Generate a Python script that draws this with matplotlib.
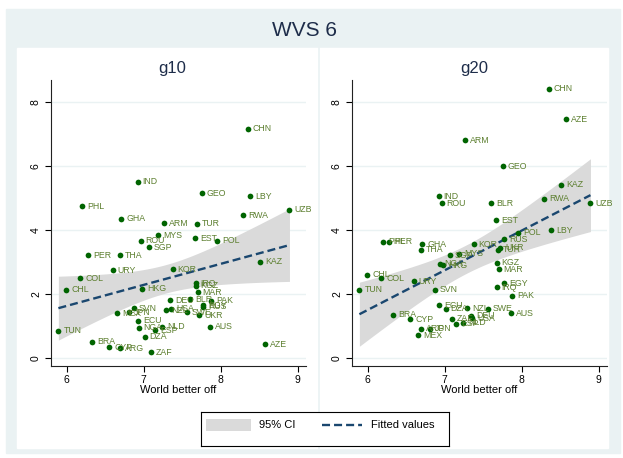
import numpy as np
import matplotlib
matplotlib.use('Agg')
import matplotlib.pyplot as plt
from matplotlib.patches import Rectangle

plt.rcParams['font.family'] = ['Liberation Sans', 'DejaVu Sans']

# data (WVS wave 6)
countries = ['CHN', 'IND', 'GEO', 'LBY', 'PHL', 'UZB', 'RWA', 'GHA', 'ARM', 'TUR',
             'MYS', 'EST', 'POL', 'ROU', 'SGP', 'PER', 'THA', 'KAZ', 'KOR', 'URY',
             'COL', 'IRQ', 'KGZ', 'CHL', 'HKG', 'MAR', 'DEU', 'BLR', 'PAK', 'EGY',
             'RUS', 'USA', 'NZL', 'SVN', 'SWE', 'UKR', 'MEX', 'JPN', 'ECU', 'NGA',
             'NLD', 'ESP', 'AUS', 'DZA', 'BRA', 'CYP', 'ARG', 'ZAF', 'TUN', 'AZE']
better_off = [8.35, 6.92, 7.755, 8.385, 6.20, 8.895, 8.29, 6.705, 7.26, 7.695,
              7.185, 7.665, 7.95, 6.96, 7.065, 6.28, 6.685, 8.515, 7.375, 6.595,
              6.175, 7.675, 7.675, 5.995, 6.98, 7.70, 7.345, 7.60, 7.875, 7.775,
              7.77, 7.36, 7.295, 6.875, 7.56, 7.72, 6.65, 6.81, 6.925, 6.935,
              7.235, 7.145, 7.865, 7.01, 6.33, 6.55, 6.69, 7.095, 5.89, 8.58]
g10 = [7.18, 5.52, 5.16, 5.07, 4.75, 4.64, 4.48, 4.37, 4.23, 4.21,
       3.85, 3.76, 3.68, 3.67, 3.48, 3.23, 3.22, 3.02, 2.79, 2.75,
       2.51, 2.35, 2.27, 2.14, 2.17, 2.06, 1.82, 1.85, 1.80, 1.66,
       1.61, 1.55, 1.50, 1.57, 1.44, 1.35, 1.41, 1.44, 1.18, 0.95,
       0.99, 0.88, 0.98, 0.68, 0.52, 0.35, 0.31, 0.19, 0.87, 0.44]
g20 = [8.43, 5.07, 6.00, 4.01, 3.65, 4.85, 4.99, 3.57, 6.82, 3.39,
       3.27, 4.32, 3.92, 4.85, 3.23, 3.64, 3.40, 5.42, 3.57, 2.41,
       2.50, 2.22, 2.99, 2.62, 2.91, 2.79, 1.33, 4.85, 1.96, 2.34,
       3.73, 1.26, 1.56, 2.15, 1.55, 3.46, 0.72, 0.93, 1.66, 2.95,
       1.11, 1.08, 1.41, 1.55, 1.36, 1.22, 0.93, 1.23, 2.14, 7.47]

W, H = 623, 458
NAVY = '#1A476F'
GREEN = '#006400'
LABEL = '#5C7F2F'
BG = '#EAF2F3'


def box(x0, y0, x1, y1):
    # pixel box (from top-left) -> figure fraction [l, b, w, h]
    return [x0 / W, 1 - y1 / H, (x1 - x0) / W, (y1 - y0) / H]


def panel(ax, y):
    x = np.array(better_off)
    y = np.array(y)
    n = len(x)
    b, a = np.polyfit(x, y, 1)
    xs = np.linspace(x.min(), x.max(), 100)
    fit = a + b * xs
    s = np.sqrt(((y - (a + b * x)) ** 2).sum() / (n - 2))
    se = s * np.sqrt(1 / n + (xs - x.mean()) ** 2 / ((x - x.mean()) ** 2).sum())
    t = 2.011  # t(0.975, 48)
    ax.fill_between(xs, fit - t * se, fit + t * se, color='#DADADA', lw=0, zorder=1)
    ax.plot(xs, fit, color=NAVY, lw=1.7, dashes=(3.4, 1.7), zorder=2)
    ax.scatter(x, y, s=17, color=GREEN, lw=0, zorder=3)
    for c, xi, yi in zip(countries, x, y):
        ax.annotate(c, (xi, yi), xytext=(3.6, 0), textcoords='offset points',
                    ha='left', va='center', fontsize=6.3, color=LABEL, zorder=4)

    ax.set_xlim(5.79, 9.11)
    ax.set_ylim(-0.23, 8.70)
    ax.set_xticks([6, 7, 8, 9])
    ax.set_yticks([0, 2, 4, 6, 8])
    ax.set_yticklabels(['0', '2', '4', '6', '8'], rotation=90, va='center')
    ax.tick_params(length=4, width=0.8, labelsize=7.5, pad=3)
    ax.yaxis.grid(True, color=BG, lw=1.0)
    ax.set_axisbelow(True)
    ax.set_facecolor('none')
    for sp in ['top', 'right']:
        ax.spines[sp].set_visible(False)
    for sp in ['left', 'bottom']:
        ax.spines[sp].set_color('#222222')
        ax.spines[sp].set_linewidth(0.8)
    ax.set_xlabel('World better off', fontsize=8, labelpad=-0.5)


fig = plt.figure(figsize=(W / 100, H / 100), dpi=100)
fig.patch.set_facecolor('white')

# stata style graph region
fig.add_artist(Rectangle((6 / W, 1 - 453 / H), 614 / W, 444 / H,
                         transform=fig.transFigure, color=BG, zorder=-10))
fig.add_artist(Rectangle((17 / W, 1 - 448 / H), 591 / W, 400 / H,
                         transform=fig.transFigure, color='white', zorder=-9))
fig.add_artist(plt.Line2D([318.5 / W, 318.5 / W], [1 - 448 / H, 1 - 48 / H],
                          transform=fig.transFigure, color=BG, lw=1.2, zorder=-8))

fig.text(304 / W, 1 - 31 / H, 'WVS 6', ha='center', va='center', fontsize=15, color='#1E2D4A')
fig.text(172 / W, 1 - 69 / H, 'g10', ha='center', va='center', fontsize=12, color='#1E2D4A')
fig.text(474 / W, 1 - 69 / H, 'g20', ha='center', va='center', fontsize=12, color='#1E2D4A')

ax1 = fig.add_axes(box(50.7, 80, 306, 365.7))
panel(ax1, g10)
ax2 = fig.add_axes(box(351.7, 80, 607, 365.7))
panel(ax2, g20)

# legend box
lax = fig.add_axes(box(201, 412, 449, 446))
lax.set_xlim(0, 248)
lax.set_ylim(34, 0)
lax.set_xticks([])
lax.set_yticks([])
for sp in lax.spines.values():
    sp.set_linewidth(0.8)
    sp.set_color('black')
lax.add_patch(Rectangle((5, 7), 45, 12, color='#DADADA', lw=0))
lax.text(58, 13, '95% CI', va='center', ha='left', fontsize=8)
lax.plot([121, 161], [13, 13], color=NAVY, lw=1.7, dashes=(3.4, 1.7))
lax.text(170, 13, 'Fitted values', va='center', ha='left', fontsize=8)

fig.savefig('out.png', dpi=100)
